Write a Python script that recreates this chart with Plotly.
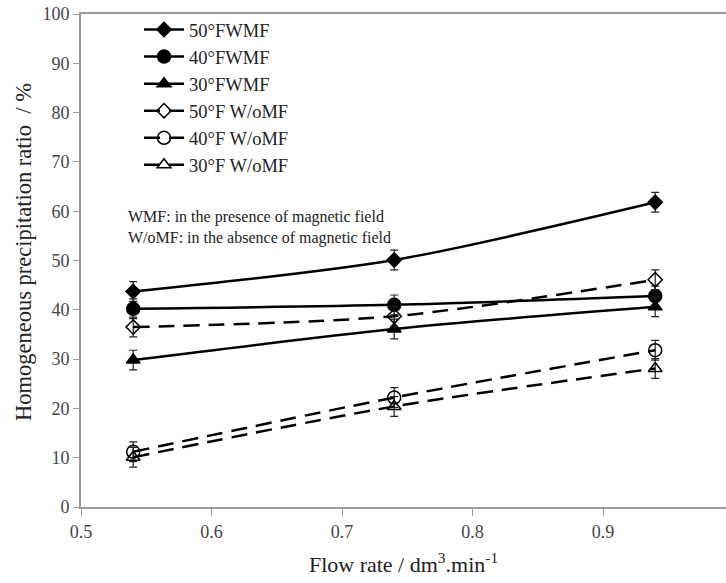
import plotly.graph_objects as go

flow = [0.54, 0.74, 0.94]
s50_wmf = [43.7, 50.1, 61.8]
s40_wmf = [40.2, 41.0, 42.8]
s30_wmf = [29.8, 36.1, 40.6]
s50_wo = [36.5, 38.7, 46.1]
s40_wo = [11.2, 22.2, 31.8]
s30_wo = [10.1, 20.4, 28.1]
err = [2.0, 2.0, 2.0]

names = ["50°FWMF", "40°FWMF", "30°FWMF", "50°F W/oMF", "40°F W/oMF", "30°F W/oMF"]
series = [s50_wmf, s40_wmf, s30_wmf, s50_wo, s40_wo, s30_wo]
symbols = ["diamond", "circle", "triangle-up", "diamond-open", "circle-open", "triangle-up-open"]
sizes = [11, 13, 12, 11, 13, 12]
dashes = ["solid", "solid", "solid", "16px,9px", "16px,9px", "16px,9px"]

FONT = "Liberation Serif"

fig = go.Figure()
for n, ys, sym, sz, d in zip(names, series, symbols, sizes, dashes):
    fig.add_trace(go.Scatter(
        x=flow, y=ys, name=n, mode="lines+markers",
        line=dict(color="black", width=2.5, dash=d, shape="spline", smoothing=0.8),
        marker=dict(symbol=sym, size=sz, color="black", line=dict(color="black", width=1.5)),
        error_y=dict(type="data", array=err, visible=True, color="#222", thickness=1.2, width=4),
    ))

fig.add_annotation(
    xref="paper", yref="paper", x=0.07, y=0.566, xanchor="left", yanchor="middle",
    text="WMF: in the presence of magnetic field<br>W/oMF: in the absence of magnetic field",
    showarrow=False, align="left", font=dict(family=FONT, size=16, color="#222"),
)
fig.add_annotation(
    xref="paper", yref="paper", x=-0.09, y=0.517, xanchor="center", yanchor="middle",
    text="Homogeneous precipitation ratio  / %", textangle=-90,
    showarrow=False, font=dict(family=FONT, size=22.5, color="#222"),
)

fig.update_layout(
    width=726, height=583,
    margin=dict(l=81, r=0, t=14, b=76),
    paper_bgcolor="white", plot_bgcolor="white",
    font=dict(family=FONT, color="#333"),
    showlegend=True,
    legend=dict(
        x=0.09, y=1.006, xanchor="left", yanchor="top",
        bgcolor="rgba(0,0,0,0)", font=dict(family=FONT, size=18.5, color="#222"),
        itemwidth=40,
    ),
    xaxis=dict(
        range=[0.5, 0.5 + (726 - 81.5) / 1304], tickvals=[0.5, 0.6, 0.7, 0.8, 0.9],
        ticktext=["0.5", "0.6", "0.7", "0.8", "0.9"],
        showgrid=False, zeroline=False, showline=True, linecolor="#9a9a9a", linewidth=2,
        mirror=True, ticks="outside", ticklen=7, tickcolor="#9a9a9a",
        tickfont=dict(family=FONT, size=18, color="#444"),
        title=dict(text="Flow rate / dm<sup>3</sup>.min<sup>-1</sup>", font=dict(family=FONT, size=22, color="#222"), standoff=16),
    ),
    yaxis=dict(
        range=[0, 100], tickvals=list(range(0, 101, 10)),
        showgrid=False, zeroline=False, showline=True, linecolor="#9a9a9a", linewidth=2,
        ticks="outside", ticklen=6, tickcolor="#9a9a9a",
        tickfont=dict(family=FONT, size=18, color="#444"),
    ),
)

fig.write_html("out.html")
